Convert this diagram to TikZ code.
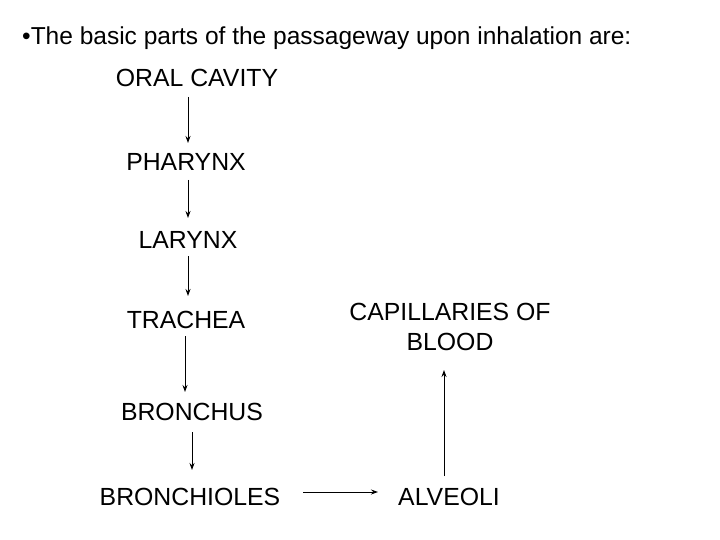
\documentclass[tikz,border=0pt]{standalone}
\usepackage{fontspec}
\setmainfont{Liberation Sans}
\usetikzlibrary{arrows.meta}
\begin{document}
\begin{tikzpicture}[x=1pt,y=-1pt,
  lbl/.style={font=\fontsize{24.8}{30}\selectfont, inner sep=0pt, align=center},
  arr/.style={-{Stealth[length=7pt,width=5pt]}, line width=0.9pt}]
\useasboundingbox (0,0) rectangle (720,540);
\fill[white] (0,0) rectangle (720,540);
\node[lbl, anchor=west] (title) at (22,38) {\fontsize{24.5}{28}\selectfont •The basic parts of the passageway upon inhalation are:};
\node[lbl] (oral) at (197,78) {ORAL CAVITY};
\node[lbl] (phar) at (186,162) {PHARYNX};
\node[lbl] (lar) at (188,240) {LARYNX};
\node[lbl] (tra) at (186,320) {TRACHEA};
\node[lbl] (bro) at (192,412) {BRONCHUS};
\node[lbl] (bri) at (190,497) {BRONCHIOLES};
\node[lbl] (alv) at (449,497) {ALVEOLI};
\node[lbl] (cap) at (450,327) {CAPILLARIES OF\\BLOOD};
\coordinate (a1) at (188,97); \coordinate (b1) at (188,143);
\coordinate (a2) at (188,180); \coordinate (b2) at (188,218);
\coordinate (a3) at (188,256); \coordinate (b3) at (188,296);
\coordinate (a4) at (185,336); \coordinate (b4) at (185,392);
\coordinate (a5) at (192,432); \coordinate (b5) at (192,470);
\coordinate (a6) at (303,492); \coordinate (b6) at (378,492);
\coordinate (a7) at (444,476); \coordinate (b7) at (444,370);
\draw[arr] (a1) -- (b1);
\draw[arr] (a2) -- (b2);
\draw[arr] (a3) -- (b3);
\draw[arr] (a4) -- (b4);
\draw[arr] (a5) -- (b5);
\draw[arr] (a6) -- (b6);
\draw[arr] (a7) -- (b7);
\end{tikzpicture}
\end{document}
